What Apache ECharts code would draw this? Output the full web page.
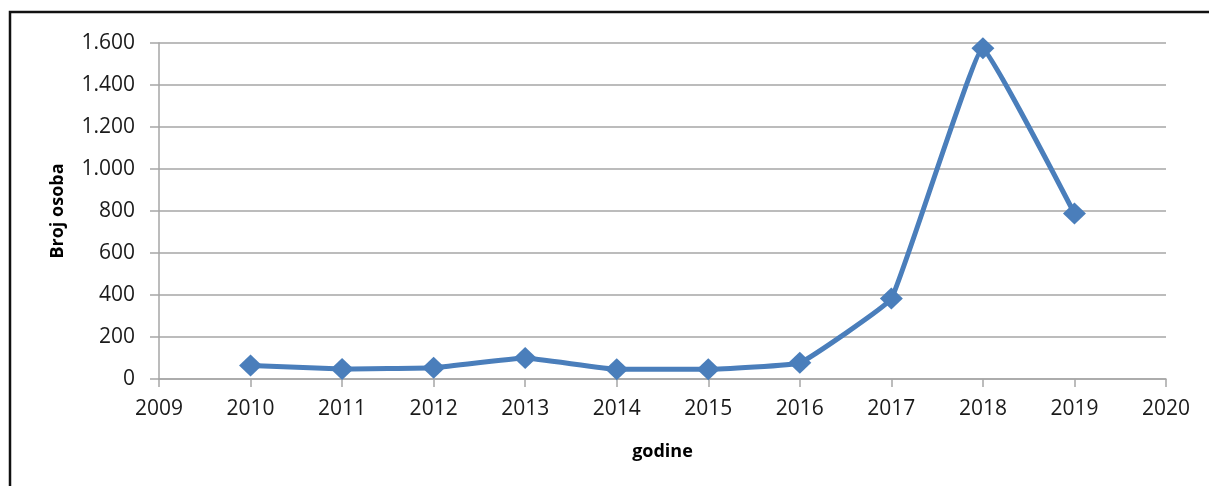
<!DOCTYPE html>
<html style="height: 100%">
    <head>
        <meta charset="utf-8">
    </head>
    <body style="height: 100%; margin: 0; background: #fff">
        <div id="container" style="width: 1209px; height: 486px"></div>
        <script type="text/javascript" src="https://cdn.jsdelivr.net/npm/echarts@6/dist/echarts.min.js"></script>
        <script type="text/javascript">
    var years = [2010, 2011, 2012, 2013, 2014, 2015, 2016, 2017, 2018, 2019];
    var persons = [64, 48, 54, 100, 46, 46, 77, 383, 1575, 788];
    var yTicks = [0, 200, 400, 600, 800, 1000, 1200, 1400, 1600];

    var dom = document.getElementById("container");
    var myChart = echarts.init(dom);
    var option;

    var points = [];
    for (var i = 0; i < years.length; i++) {
        points.push([years[i], persons[i]]);
    }

    function fmtThousands(v) {
        return String(v).replace(/\B(?=(\d{3})+(?!\d))/g, '.');
    }

    var gray = '#a6a6a6';
    var font = '"Open Sans", sans-serif';

    option = {
        backgroundColor: '#fff',
        animation: false,
        graphic: [{
            type: 'rect',
            shape: { x: 10, y: 12, width: 1220, height: 500 },
            style: { fill: 'none', stroke: '#111', lineWidth: 2.5 }
        }],
        grid: {
            left: 159,
            right: 43,
            top: 43,
            bottom: 107
        },
        xAxis: {
            type: 'value',
            min: 2009,
            max: 2020,
            interval: 1,
            name: 'godine',
            nameLocation: 'middle',
            nameGap: 64,
            nameTextStyle: { fontFamily: font, fontWeight: 'bold', fontSize: 18, color: '#000' },
            axisLine: { show: true, lineStyle: { color: gray, width: 1.5 } },
            axisTick: { show: true, length: 8, lineStyle: { color: gray, width: 1.5 } },
            axisLabel: {
                margin: 20,
                fontFamily: font,
                fontSize: 21,
                color: '#1a1a1a',
                formatter: function (v) { return String(v); }
            },
            splitLine: { show: false }
        },
        yAxis: {
            type: 'value',
            min: yTicks[0],
            max: yTicks[yTicks.length - 1],
            interval: 200,
            name: 'Broj osoba',
            nameLocation: 'middle',
            nameGap: 92,
            nameRotate: 90,
            nameTextStyle: { fontFamily: font, fontWeight: 'bold', fontSize: 18, color: '#000' },
            axisLine: { show: true, lineStyle: { color: gray, width: 1.5 } },
            axisTick: { show: true, length: 9, lineStyle: { color: gray, width: 1.5 } },
            axisLabel: {
                margin: 24,
                fontFamily: font,
                fontSize: 21,
                color: '#1a1a1a',
                formatter: fmtThousands
            },
            splitLine: { show: true, lineStyle: { color: gray, width: 1.5 } }
        },
        series: [{
            type: 'line',
            data: points,
            smooth: 0.08,
            symbol: 'diamond',
            symbolSize: [23, 22],
            itemStyle: { color: '#4a7ebb' },
            lineStyle: { color: '#4a7ebb', width: 5 }
        }]
    };

    if (option && typeof option === 'object') {
        myChart.setOption(option);
    }
        </script>
    </body>
</html>
